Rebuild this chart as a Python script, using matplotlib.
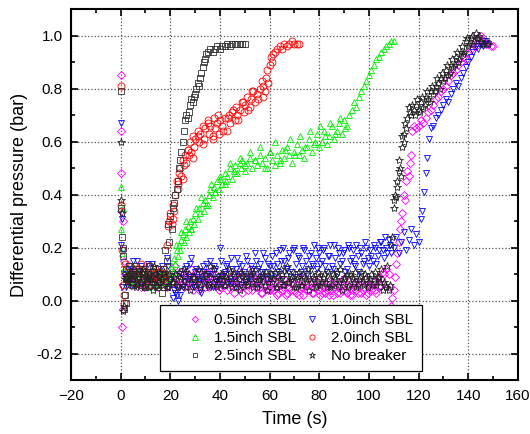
import numpy as np
import matplotlib
matplotlib.use('Agg')
import matplotlib.pyplot as plt
from matplotlib.ticker import MultipleLocator

plt.rcParams['font.family'] = ['Liberation Sans', 'DejaVu Sans']

# ---- 0.5 inch SBL (magenta diamonds) ----
t05_spike = [0.0, 0.1, 0.2, 0.3, 0.5, 0.8, 1.0, 1.3, 1.6]
p05_spike = [0.85, 0.64, 0.48, 0.34, -0.10, -0.03, 0.30, 0.15, 0.10]
p05_flat = [0.10, 0.08, 0.06, 0.09, 0.07, 0.11, 0.05, 0.08, 0.07, 0.10, 0.06, 0.09, 0.08, 0.05, 0.07, 0.10, 0.08, 0.06, 0.09,
            0.07, 0.13, 0.05, 0.08, 0.10, 0.06, 0.09, 0.07, 0.04, 0.08, 0.11, 0.06, 0.08, 0.05, 0.09, 0.07, 0.12, 0.06, 0.08, 0.05,
            0.07, 0.09, 0.04, 0.08, 0.06, 0.10, 0.05, 0.07, 0.03, 0.08, 0.06, 0.12, 0.04, 0.07, 0.05, 0.09, 0.03, 0.06, 0.08, 0.04,
            0.05, 0.07, 0.02, 0.06, 0.04, 0.08, 0.03, 0.05, 0.07, 0.04, 0.06, 0.02, 0.05, 0.09, 0.04, 0.06, 0.03, 0.05, 0.07, 0.04,
            0.03, 0.06, 0.04, 0.02, 0.07, 0.05, 0.03, 0.06, 0.04, 0.08, 0.03, 0.05, 0.02, 0.06, 0.04, 0.07, 0.03, 0.05, 0.02, 0.06,
            0.04, 0.07, 0.03, 0.05, 0.08, 0.10, 0.12]
p05_flat2 = [0.08, 0.11, 0.06, 0.09, 0.12, 0.07, 0.10, 0.05, 0.08, 0.13, 0.07, 0.09, 0.06, 0.11, 0.08, 0.10, 0.05, 0.09, 0.07,
             0.10, 0.06, 0.08, 0.11, 0.05, 0.09, 0.07, 0.12, 0.06, 0.10, 0.04, 0.08, 0.07, 0.11, 0.05, 0.09, 0.06, 0.10, 0.04, 0.08,
             0.06, 0.10, 0.05, 0.08, 0.03, 0.07, 0.11, 0.05, 0.09, 0.06, 0.04, 0.08, 0.10, 0.05, 0.07, 0.03, 0.09, 0.06, 0.04, 0.07,
             0.04, 0.08, 0.03, 0.06, 0.05, 0.02, 0.07, 0.04, 0.06, 0.03, 0.08, 0.05, 0.02, 0.06, 0.04, 0.07, 0.03, 0.05, 0.08, 0.02,
             0.05, 0.03, 0.07, 0.04, 0.02, 0.06, 0.05, 0.03, 0.08, 0.04, 0.06, 0.02, 0.05, 0.07, 0.03, 0.06, 0.04, 0.08, 0.03, 0.05,
             0.07, 0.04, 0.09, 0.06, 0.11]
t05_rise = [108, 108.5, 109, 109.5, 110, 110.5, 111, 111.5, 112, 112.5, 113, 113.5, 114, 114.5, 115, 115.5, 116, 116.5, 117,
            117.5, 118, 119, 120, 121, 122, 123, 124, 125, 126, 127, 128, 129, 130, 131, 132, 133, 134, 135, 136, 137, 138,
            139, 140, 141, 142, 143, 144, 145, 146, 147, 148, 149, 150]
p05_rise = [0.10, 0.05, -0.02, 0.01, 0.04, 0.09, 0.14, 0.18, 0.22, 0.27, 0.30, 0.33, 0.40, 0.38, 0.45, 0.49, 0.47, 0.52, 0.55,
            0.64, 0.66, 0.65, 0.66, 0.68, 0.67, 0.69, 0.71, 0.72, 0.74, 0.76, 0.77, 0.79, 0.80, 0.81, 0.83, 0.85, 0.86, 0.87,
            0.89, 0.90, 0.92, 0.91, 0.94, 0.95, 0.97, 0.96, 0.99, 1.00, 0.98, 0.97, 0.97, 0.96, 0.96]

# ---- 1.0 inch SBL (blue down triangles) ----
t10_spike = [0.0, 0.2, 0.4, 0.7, 1.0, 1.4]
p10_spike = [0.67, 0.21, 0.31, 0.05, 0.19, 0.10]
p10_flat = [0.05, 0.12, 0.08, 0.15, 0.06, 0.10, 0.13, 0.07, 0.09, 0.14, 0.05, 0.11, 0.08, 0.12, 0.06, 0.10, 0.09, 0.13, 0.07,
            0.01, 0.03, 0.00, 0.02, 0.05, 0.12, 0.08, 0.14, 0.06, 0.11, 0.09, 0.04, 0.13, 0.07, 0.10, 0.15, 0.05, 0.12, 0.08, 0.20,
            0.06, 0.11, 0.14, 0.08, 0.12, 0.05, 0.16, 0.10, 0.13, 0.07, 0.15, 0.09, 0.12, 0.18, 0.06, 0.14, 0.11, 0.16, 0.08, 0.13,
            0.17, 0.10, 0.14, 0.19, 0.08, 0.15, 0.12, 0.18, 0.11, 0.20, 0.09, 0.16, 0.13, 0.19, 0.10, 0.17, 0.14, 0.21, 0.12, 0.18,
            0.15, 0.20, 0.11, 0.17, 0.13, 0.21, 0.10, 0.18, 0.15, 0.19, 0.12, 0.20, 0.16, 0.14, 0.21, 0.11, 0.18, 0.15, 0.20, 0.13,
            0.17, 0.21, 0.14, 0.19, 0.22, 0.16, 0.20, 0.23, 0.18]
p10_flat2 = [0.09, 0.13, 0.06, 0.11, 0.15, 0.07, 0.10, 0.12, 0.05, 0.09, 0.14, 0.08, 0.11, 0.06, 0.13, 0.09, 0.16, 0.07, 0.10,
             0.04, 0.02, 0.05, 0.10, 0.07, 0.13, 0.09, 0.16, 0.05, 0.12, 0.08, 0.03, 0.11, 0.14, 0.06, 0.10, 0.13, 0.07, 0.09, 0.15,
             0.10, 0.13, 0.07, 0.16, 0.09, 0.12, 0.14, 0.06, 0.11, 0.17, 0.08, 0.13, 0.10, 0.15, 0.12, 0.09, 0.18, 0.11, 0.14, 0.10,
             0.13, 0.18, 0.11, 0.15, 0.20, 0.12, 0.16, 0.09, 0.19, 0.14, 0.17, 0.11, 0.20, 0.15, 0.12, 0.18, 0.13, 0.16, 0.20, 0.14,
             0.19, 0.13, 0.17, 0.21, 0.12, 0.16, 0.20, 0.14, 0.18, 0.11, 0.21, 0.15, 0.19, 0.13, 0.17, 0.20, 0.14, 0.22, 0.16, 0.19,
             0.15, 0.20, 0.17, 0.22, 0.19, 0.24, 0.18, 0.21]
t10_rise = [110, 111, 112, 113, 114, 115, 116, 117, 118, 119, 120, 121.0, 121.6, 122.3, 123.0, 123.6, 124.3, 125, 126, 127,
            128, 129, 130, 131, 132, 133, 134, 135, 136, 137, 138, 139, 140, 141, 142, 143, 144, 145, 146, 147, 148]
p10_rise = [0.20, 0.24, 0.18, 0.22, 0.26, 0.19, 0.23, 0.27, 0.21, 0.25, 0.22, 0.31, 0.34, 0.41, 0.48, 0.54, 0.61, 0.65, 0.66,
            0.69, 0.70, 0.72, 0.74, 0.76, 0.75, 0.78, 0.80, 0.82, 0.81, 0.84, 0.86, 0.88, 0.90, 0.92, 0.94, 0.96, 0.95, 0.97,
            0.96, 0.98, 0.97]

# ---- 1.5 inch SBL (green up triangles) ----
t15_spike = [0.0, 0.3, 0.6, 0.9, 1.3]
p15_spike = [0.43, 0.27, 0.18, 0.35, 0.12]
p15_flat = [0.09, 0.07, 0.11, 0.06, 0.10, 0.08, 0.12, 0.07, 0.09, 0.05, 0.10, 0.08, 0.11, 0.06, 0.09, 0.07, 0.10, 0.08]
p15_flat2 = [0.08, 0.10, 0.06, 0.12, 0.07, 0.09, 0.11, 0.06, 0.10, 0.08, 0.12, 0.07, 0.09, 0.06, 0.11, 0.08, 0.10]
t15_rise = [19.5, 20, 20.5, 21, 21.5, 22, 22.5, 23, 23.5, 24, 24.5, 25, 25.5, 26, 26.5, 27, 27.5, 28, 28.5, 29, 29.5, 30,
            31, 31.5, 32, 33, 33.5, 34, 35, 35.5, 36, 37, 37.5, 38, 39, 39.5, 40, 41, 42, 42.5, 43, 44, 45, 45.5, 46, 47, 48,
            48.5, 49, 50, 51, 52, 53, 54, 55, 56, 57, 58, 59, 60, 61, 62, 63, 64, 65, 66, 67, 68, 69, 70, 71, 72, 73, 74, 75,
            76, 77, 78, 79, 80, 81, 82, 83, 84, 85, 86, 87, 88, 89, 90, 91, 92, 93, 94, 95, 96, 97, 98, 99, 100, 101, 102,
            103, 104, 105, 106, 107, 108, 109, 110]
p15_rise = [0.07, 0.10, 0.13, 0.11, 0.16, 0.14, 0.19, 0.17, 0.21, 0.19, 0.23, 0.25, 0.22, 0.27, 0.24, 0.28, 0.26, 0.30, 0.27,
            0.31, 0.29, 0.33, 0.31, 0.35, 0.33, 0.37, 0.34, 0.38, 0.36, 0.40, 0.42, 0.39, 0.43, 0.41, 0.45, 0.42, 0.46, 0.44,
            0.48, 0.45, 0.47, 0.50, 0.46, 0.49, 0.51, 0.48, 0.52, 0.50, 0.53, 0.49, 0.52, 0.54, 0.50, 0.53, 0.51, 0.55, 0.52,
            0.54, 0.50, 0.56, 0.53, 0.51, 0.55, 0.52, 0.57, 0.54, 0.58, 0.55, 0.52, 0.56, 0.59, 0.55, 0.57, 0.54, 0.58, 0.61,
            0.56, 0.59, 0.63, 0.58, 0.60, 0.64, 0.59, 0.62, 0.66, 0.61, 0.64, 0.67, 0.63, 0.68, 0.66, 0.70, 0.72, 0.75, 0.73,
            0.77, 0.79, 0.81, 0.83, 0.85, 0.87, 0.89, 0.91, 0.92, 0.94, 0.95, 0.96, 0.97, 0.98, 0.98]
p15_band2 = [0.21, 0.26, 0.30, 0.27, 0.35, 0.39, 0.36, 0.44, 0.41, 0.47, 0.44, 0.52, 0.48, 0.54, 0.51, 0.56, 0.53, 0.58,
             0.50, 0.56, 0.60, 0.53, 0.57, 0.61, 0.55, 0.62, 0.58, 0.64, 0.60, 0.66, 0.62, 0.67, 0.63, 0.69, 0.65]

# ---- 2.0 inch SBL (red circles) ----
t20_spike = [0.0, 0.3, 0.6, 0.9, 1.2, 1.5, 1.8]
p20_spike = [0.81, 0.36, 0.19, 0.06, 0.02, -0.01, 0.14]
p20_flat = [0.11, 0.08, 0.10, 0.07, 0.12, 0.09, 0.14, 0.08, 0.10, 0.06, 0.11, 0.09, 0.12, 0.07, 0.10, 0.08]
p20_flat2 = [0.09, 0.13, 0.07, 0.10, 0.08, 0.12, 0.06, 0.11, 0.09, 0.13, 0.07, 0.10, 0.08, 0.11, 0.09]
t20_rise = [17.5, 18, 18.5, 19, 19.5, 20, 20.5, 21, 21.5, 22, 22.5, 23, 23.5, 24, 24.5, 25, 25.5, 26, 26.5, 27, 27.5, 28,
            28.5, 29, 29.5, 30, 31, 31.5, 32, 33, 33.5, 34, 35, 35.5, 36, 37, 37.5, 38, 39, 39.5, 40, 41, 42, 43, 43.5, 44,
            45, 46, 46.5, 47, 48, 49, 49.5, 50, 51, 52, 52.5, 53, 54, 55, 56, 57, 57.5, 58, 58.5, 59, 59.5, 60, 60.5, 61,
            61.5, 62, 63, 64, 65, 66, 67, 68, 69, 70, 71, 72]
p20_rise = [0.12, 0.10, 0.21, 0.28, 0.30, 0.33, 0.29, 0.36, 0.34, 0.40, 0.45, 0.42, 0.48, 0.50, 0.47, 0.53, 0.51, 0.55, 0.52,
            0.57, 0.55, 0.60, 0.56, 0.62, 0.58, 0.61, 0.64, 0.60, 0.63, 0.66, 0.61, 0.65, 0.68, 0.63, 0.66, 0.62, 0.69, 0.65,
            0.67, 0.63, 0.68, 0.66, 0.69, 0.64, 0.70, 0.67, 0.71, 0.68, 0.73, 0.70, 0.72, 0.75, 0.71, 0.74, 0.77, 0.73, 0.76,
            0.79, 0.75, 0.78, 0.80, 0.83, 0.77, 0.79, 0.84, 0.87, 0.82, 0.89, 0.92, 0.90, 0.93, 0.94, 0.95, 0.96, 0.95, 0.97,
            0.96, 0.97, 0.98, 0.97, 0.97, 0.97]
p20_band2 = [0.31, 0.44, 0.46, 0.57, 0.54, 0.62, 0.59, 0.67, 0.61, 0.70, 0.64, 0.69, 0.72, 0.68, 0.75, 0.72, 0.79, 0.76, 0.81]

# ---- 2.5 inch SBL (dark squares) ----
t25_spike = [0.0, 0.2, 0.5, 0.8, 1.1, 1.4, 1.7, 2.0]
p25_spike = [0.79, 0.35, 0.24, 0.20, 0.17, -0.03, 0.02, -0.01]
p25_flat = [0.12, 0.08, 0.10, 0.06, 0.13, 0.09, 0.07, 0.11, 0.05, 0.10, 0.08, 0.12, 0.06, 0.09, 0.07]
p25_flat2 = [0.09, 0.13, 0.07, 0.11, 0.08, 0.12, 0.06, 0.10, 0.09, 0.13, 0.07, 0.11, 0.05, 0.10]
t25_rise = [16.5, 17, 17.5, 18, 18.5, 19, 19.5, 20, 20.5, 21, 21.5, 22, 22.5, 23, 23.5, 24, 24.5, 25, 25.5, 26, 26.5, 27,
            27.5, 28, 28.5, 29, 29.5, 30, 30.5, 31, 31.5, 32, 32.5, 33, 33.5, 34, 34.5, 35, 36, 37, 38, 39, 40, 41, 42, 43,
            44, 45, 46, 47, 48, 49, 50]
p25_rise = [0.03, 0.12, 0.05, 0.19, 0.15, 0.29, 0.22, 0.32, 0.27, 0.35, 0.37, 0.40, 0.42, 0.45, 0.50, 0.53, 0.56, 0.60, 0.64,
            0.68, 0.70, 0.69, 0.71, 0.74, 0.76, 0.75, 0.77, 0.78, 0.80, 0.82, 0.81, 0.84, 0.86, 0.88, 0.90, 0.91, 0.93, 0.94,
            0.95, 0.94, 0.95, 0.96, 0.95, 0.96, 0.96, 0.97, 0.96, 0.97, 0.97, 0.97, 0.97, 0.97, 0.97]

# ---- No breaker (dark stars) ----
tnb_spike = [0.0, 0.3, 0.6, 0.9, 1.2, 1.6]
pnb_spike = [0.60, 0.38, 0.33, -0.04, -0.02, 0.08]
pnb_flat = [0.09, 0.06, 0.11, 0.08, 0.05, 0.10, 0.07, 0.12, 0.06, 0.09, 0.08, 0.04, 0.10, 0.07, 0.11, 0.06, 0.09, 0.05, 0.08,
            0.07, 0.10, 0.05, 0.09, 0.06, 0.11, 0.08, 0.04, 0.09, 0.07, 0.12, 0.05, 0.08, 0.10, 0.06, 0.13, 0.07, 0.09, 0.05, 0.08,
            0.10, 0.06, 0.08, 0.11, 0.05, 0.09, 0.07, 0.04, 0.10, 0.08, 0.06, 0.11, 0.07, 0.09, 0.05, 0.08, 0.10, 0.06, 0.04, 0.09,
            0.07, 0.11, 0.05, 0.08, 0.10, 0.06, 0.13, 0.07, 0.09, 0.05, 0.08, 0.11, 0.06, 0.09, 0.07, 0.04, 0.10, 0.08, 0.06, 0.09,
            0.07, 0.10, 0.05, 0.08, 0.06, 0.09, 0.11, 0.07, 0.04, 0.08, 0.10, 0.06, 0.09, 0.07, 0.05, 0.08, 0.11, 0.06, 0.09, 0.07,
            0.10, 0.08, 0.06, 0.09, 0.12, 0.07, 0.05]
pnb_flat2 = [0.07, 0.10, 0.08, 0.12, 0.06, 0.09, 0.11, 0.05, 0.08, 0.10, 0.07, 0.13, 0.06, 0.09, 0.08, 0.11, 0.05, 0.10, 0.07,
             0.09, 0.06, 0.11, 0.08, 0.12, 0.05, 0.10, 0.07, 0.09, 0.06, 0.08, 0.11, 0.07, 0.10, 0.05, 0.09, 0.12, 0.06, 0.08, 0.10,
             0.06, 0.09, 0.12, 0.07, 0.10, 0.05, 0.08, 0.11, 0.06, 0.09, 0.07, 0.10, 0.05, 0.12, 0.08, 0.06, 0.09, 0.11, 0.07, 0.10,
             0.08, 0.05, 0.09, 0.12, 0.06, 0.10, 0.07, 0.08, 0.11, 0.05, 0.09, 0.06, 0.10, 0.08, 0.12, 0.07, 0.09, 0.05, 0.11, 0.06,
             0.09, 0.07, 0.11, 0.05, 0.10, 0.08, 0.06, 0.12, 0.07, 0.09, 0.05, 0.10, 0.08, 0.11, 0.06, 0.09, 0.07, 0.10, 0.05, 0.08,
             0.06, 0.11, 0.09, 0.07, 0.04, 0.06]
tnb_rise = [107.5, 108, 108.5, 109, 109.5, 110, 110.5, 111, 111.5, 112, 112.5, 113, 113.5, 114, 114.5, 115, 116, 117, 118,
            119, 120, 121, 122, 123, 124, 125, 126, 127, 128, 129, 130, 131, 132, 133, 134, 135, 136, 137, 138, 139, 140,
            141, 142, 143, 144, 145, 146, 147, 148]
pnb_rise = [0.13, 0.04, 0.06, 0.21, 0.24, 0.38, 0.40, 0.39, 0.43, 0.53, 0.50, 0.47, 0.58, 0.63, 0.67, 0.65, 0.73, 0.70, 0.72,
            0.74, 0.72, 0.75, 0.73, 0.77, 0.76, 0.79, 0.78, 0.81, 0.82, 0.84, 0.83, 0.87, 0.85, 0.89, 0.88, 0.92, 0.90, 0.94,
            0.93, 0.98, 0.96, 0.99, 0.97, 1.01, 0.99, 0.98, 0.97, 0.98, 0.97]
tnb_rise2 = [110.2, 111.2, 112.2, 113.2, 114.2, 115.5, 116.5, 117.5, 118.5, 119.5, 120.5, 121.5, 122.5, 123.5, 124.5, 125.5,
             126.5, 127.5, 128.5, 129.5, 130.5, 131.5, 132.5, 133.5, 134.5, 135.5, 136.5, 137.5, 138.5, 139.5, 140.5, 141.5,
             142.5, 143.5, 144.5, 145.5]
pnb_rise2 = [0.35, 0.45, 0.49, 0.62, 0.60, 0.69, 0.71, 0.74, 0.70, 0.76, 0.71, 0.77, 0.74, 0.79, 0.75, 0.81, 0.79, 0.84, 0.80,
             0.86, 0.84, 0.89, 0.86, 0.91, 0.89, 0.94, 0.91, 0.96, 0.94, 0.99, 0.97, 1.00, 0.98, 0.99, 1.00, 0.97]

labels = ["0.5inch SBL", "1.5inch SBL", "2.5inch SBL", "1.0inch SBL", "2.0inch SBL", "No breaker"]


def sec(start, vals, step=1.0):
    # sampling times of a steady stretch (one reading per step)
    return list(start + step * np.arange(len(vals)))


series = {
    "0.5inch SBL": (t05_spike + sec(2, p05_flat) + sec(2.5, p05_flat2) + t05_rise,
                    p05_spike + p05_flat + p05_flat2 + p05_rise, 'D', '#FF00FF', 4.2),
    "1.0inch SBL": (t10_spike + sec(2, p10_flat) + sec(2.5, p10_flat2) + t10_rise,
                    p10_spike + p10_flat + p10_flat2 + p10_rise, 'v', '#0000FF', 5),
    "1.5inch SBL": (t15_spike + sec(2, p15_flat) + sec(2.5, p15_flat2) + t15_rise + sec(22.2, p15_band2, 2),
                    p15_spike + p15_flat + p15_flat2 + p15_rise + p15_band2, '^', '#00EE00', 5),
    "2.0inch SBL": (t20_spike + sec(2, p20_flat) + sec(2.5, p20_flat2) + t20_rise + sec(21.2, p20_band2, 2),
                    p20_spike + p20_flat + p20_flat2 + p20_rise + p20_band2, 'o', '#FF0000', 5),
    "2.5inch SBL": (t25_spike + sec(2, p25_flat) + sec(2.5, p25_flat2) + t25_rise,
                    p25_spike + p25_flat + p25_flat2 + p25_rise, 's', '#333333', 4.6),
    "No breaker": (tnb_spike + sec(2, pnb_flat) + sec(2.5, pnb_flat2) + tnb_rise + tnb_rise2,
                   pnb_spike + pnb_flat + pnb_flat2 + pnb_rise + pnb_rise2, '*', '#222222', 6),
}

fig = plt.figure(figsize=(5.3, 4.34), dpi=100)
ax = fig.add_axes([0.134, 0.124, 0.843, 0.855])

handles = {}
for name in ["0.5inch SBL", "1.0inch SBL", "1.5inch SBL", "2.0inch SBL", "2.5inch SBL", "No breaker"]:
    t, p, m, c, ms = series[name]
    h, = ax.plot(t, p, linestyle='none', marker=m, markersize=ms, markerfacecolor='none',
                 markeredgecolor=c, markeredgewidth=0.6, label=name)
    handles[name] = h

ax.set_xlim(-20, 160)
ax.set_ylim(-0.3, 1.1)
ax.xaxis.set_major_locator(MultipleLocator(20))
ax.xaxis.set_minor_locator(MultipleLocator(10))
ax.yaxis.set_minor_locator(MultipleLocator(0.1))
ax.set_yticks([-0.2, 0.0, 0.2, 0.4, 0.6, 0.8, 1.0])
ax.set_yticklabels(['-0.2', '0.0', '0.2', '0.4', '0.6', '0.8', '1.0'])
ax.tick_params(which='both', direction='in', top=True, right=True, labelsize=11, width=1.2)
ax.tick_params(which='major', length=5, pad=6)
ax.tick_params(which='minor', length=3)
ax.grid(True, which='major', linestyle=':', color='#555555', linewidth=0.9)
for s in ax.spines.values():
    s.set_linewidth(1.5)

ax.set_xlabel('Time (s)', fontsize=13, labelpad=6)
ax.set_ylabel('Differential pressure (bar)', fontsize=13, labelpad=6)

leg = ax.legend([handles[l] for l in labels], labels, ncol=2, loc='lower left',
                bbox_to_anchor=(0.199, 0.024), borderaxespad=0, fontsize=11, markerscale=0.75,
                frameon=True, fancybox=False, edgecolor='black', framealpha=1,
                handlelength=3.5, handletextpad=-0.5, columnspacing=-0.7,
                borderpad=0.55, labelspacing=0.25)
leg.get_frame().set_linewidth(0.9)

fig.savefig('out.png', dpi=100)
